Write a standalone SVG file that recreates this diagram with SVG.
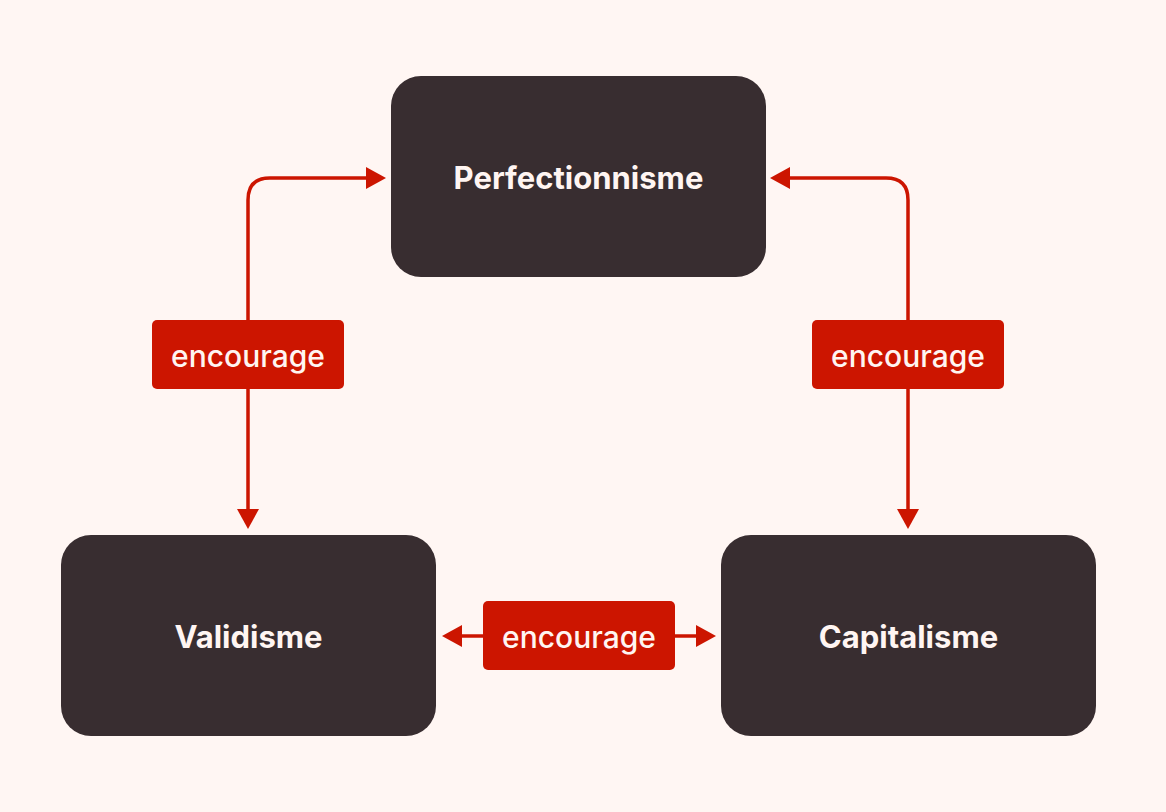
<svg xmlns="http://www.w3.org/2000/svg" width="1166" height="812" viewBox="0 0 1166 812">
<style>
.node{fill:#382d30}
.ntext{font-family:Inter,"Open Sans",sans-serif;font-weight:700;font-size:31px;fill:#fff5f2;text-anchor:middle}
.conn{fill:none;stroke:#cc1500;stroke-width:3.5}
.lab{fill:#cc1500}
.ltext{font-family:Inter,"Open Sans",sans-serif;font-weight:500;font-size:30px;fill:#fff5f2;text-anchor:middle}
</style>
<defs>
<marker id="ah" viewBox="0 0 20 22" refX="0" refY="11" markerWidth="20" markerHeight="22" markerUnits="userSpaceOnUse" orient="auto-start-reverse">
<path d="M0,0 L20,11 L0,22 Z" fill="#cc1500"/>
</marker>
</defs>
<rect width="1166" height="812" fill="#fff6f3"/>
<g id="connectors">
<path class="conn" d="M248,509 V200 Q248,178 270,178 H366" marker-start="url(#ah)" marker-end="url(#ah)"/>
<path class="conn" d="M908,509 V200 Q908,178 886,178 H790" marker-start="url(#ah)" marker-end="url(#ah)"/>
<path class="conn" d="M462,636 H696" marker-start="url(#ah)" marker-end="url(#ah)"/>
</g>
<g id="perfectionnisme">
<rect class="node" x="391" y="76" width="375" height="201" rx="30"/>
<text class="ntext" x="578.5" y="189">Perfectionnisme</text>
</g>
<g id="validisme">
<rect class="node" x="61" y="535" width="375" height="201" rx="30"/>
<text class="ntext" x="248.5" y="648">Validisme</text>
</g>
<g id="capitalisme">
<rect class="node" x="721" y="535" width="375" height="201" rx="30"/>
<text class="ntext" x="908.5" y="648">Capitalisme</text>
</g>
<g id="label-left">
<rect class="lab" x="152" y="320" width="192" height="69" rx="5"/>
<text class="ltext" x="248" y="367">encourage</text>
</g>
<g id="label-right">
<rect class="lab" x="812" y="320" width="192" height="69" rx="5"/>
<text class="ltext" x="908" y="367">encourage</text>
</g>
<g id="label-bottom">
<rect class="lab" x="483" y="601" width="192" height="69" rx="5"/>
<text class="ltext" x="579" y="648">encourage</text>
</g>
</svg>
